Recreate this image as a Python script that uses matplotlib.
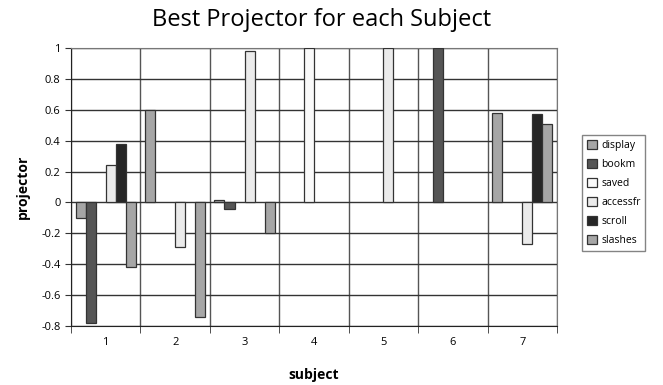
import numpy as np
import matplotlib
matplotlib.use("Agg")
import matplotlib.pyplot as plt

plt.rcParams['font.family'] = ['Open Sans', 'DejaVu Sans']

subjects = ['1', '2', '3', '4', '5', '6', '7']
series = ['display', 'bookm', 'saved', 'accessfr', 'scroll', 'slashes']
colors = ['#a6a6a6', '#555555', '#fafafa', '#ebebeb', '#262626', '#a6a6a6']

display = [-0.10, 0.60, 0.015, 0, 0, 0, 0.58]
bookm = [-0.78, 0, -0.04, 0, 0, 1.0, 0]
saved = [0, 0, 0, 1.0, 0, 0, 0]
accessfr = [0.24, -0.29, 0.98, 0, 1.0, 0, -0.27]
scroll = [0.38, 0, 0, 0, 0, 0, 0.57]
slashes = [-0.42, -0.74, -0.20, 0, 0, 0, 0.51]
values = [display, bookm, saved, accessfr, scroll, slashes]

fig = plt.figure(figsize=(6.63, 3.85), dpi=100)
ax = fig.add_axes([71 / 663, 1 - 326 / 385, 486 / 663, 278 / 385])

x = np.arange(len(subjects))
n = len(series)
group = 0.87
w = group / n
handles = []
for i, (name, vals, c) in enumerate(zip(series, values, colors)):
    pos = x - group / 2 + w * (i + 0.5)
    v = np.array(vals)
    mask = v != 0
    ax.bar(pos[mask], v[mask], width=w, color=c, edgecolor='#333333',
           linewidth=0.9, zorder=3)
    handles.append(plt.Rectangle((0, 0), 1, 1, facecolor=c,
                                 edgecolor='#333333', linewidth=0.9))

ax.set_xlim(-0.5, len(subjects) - 0.5)
ax.set_ylim(-0.8, 1.0)
ax.set_yticks(np.round(np.arange(-0.8, 1.01, 0.2), 1))
ax.set_yticklabels(['-0.8', '-0.6', '-0.4', '-0.2', '0', '0.2', '0.4',
                    '0.6', '0.8', '1'])
ax.set_xticks(x)
ax.set_xticklabels(subjects)
ax.set_xticks(np.arange(-0.5, len(subjects), 1), minor=True)
ax.tick_params(axis='x', which='major', length=0, pad=8, labelsize=8)
ax.tick_params(axis='x', which='minor', length=5, color='#333333')
ax.tick_params(axis='y', length=4, labelsize=8, color='#333333')
ax.grid(axis='y', color='#333333', linewidth=1, zorder=0)
ax.grid(axis='x', which='minor', color='#555555', linewidth=1, zorder=0)
for s in ['top', 'right']:
    ax.spines[s].set_color('#777777')
for s in ['left', 'bottom']:
    ax.spines[s].set_color('#222222')

ax.set_ylabel('projector', fontsize=10, fontweight='bold', labelpad=8)
ax.set_xlabel('subject', fontsize=10, fontweight='bold', labelpad=14)
fig.text(322 / 663, 1 - 20 / 385, 'Best Projector for each Subject',
         ha='center', va='center', fontsize=17)

leg = fig.legend(handles, series, loc='upper left',
                 bbox_to_anchor=(582 / 663, 1 - 135 / 385),
                 fontsize=7.5, frameon=True, fancybox=False,
                 handlelength=1.0, handleheight=1.0, handletextpad=0.4,
                 labelspacing=0.75, borderpad=0.45, borderaxespad=0)
leg.get_frame().set_edgecolor('#666666')
leg.get_frame().set_linewidth(1)

fig.savefig('out.png', dpi=100)
